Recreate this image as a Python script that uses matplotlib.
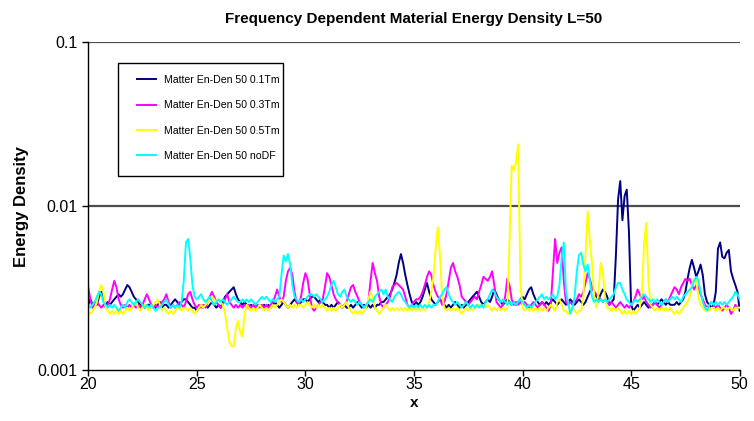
import numpy as np
import matplotlib
matplotlib.use("Agg")
import matplotlib.pyplot as plt
from matplotlib.ticker import FixedLocator, FixedFormatter, NullLocator
from matplotlib.patches import Rectangle

plt.rcParams['font.family'] = ['Liberation Sans', 'DejaVu Sans']

# x grid: 20.0 .. 50.0 step 0.1
x_start, x_step, n_pts = 20.0, 0.1, 301

# values in units of 1e-4 (energy density), one row per unit of x
navy_01 = [
    25, 27, 25, 26, 25, 28, 30, 27, 25, 26,
    25, 26, 27, 28, 29, 28, 29, 31, 33, 32,
    30, 28, 27, 26, 25, 25, 24, 25, 25, 24,
    25, 24, 25, 26, 24, 25, 25, 24, 25, 26,
    27, 26, 25, 26, 27, 27, 26, 25, 24, 24,
    23, 24, 25, 24, 25, 24, 25, 26, 25, 24,
    25, 24, 26, 28, 29, 30, 31, 32, 29, 27,
    26, 25, 26, 25, 24, 25, 24, 25, 24, 25,
    24, 25, 24, 25, 24, 25, 26, 25, 24, 25,
    26, 25, 24, 25, 26, 27, 26, 25, 26, 27,
    27, 26, 27, 28, 28, 27, 26, 27, 26, 25,
    25, 24, 25, 24, 25, 26, 25, 24, 25, 24,
    24, 25, 24, 25, 26, 25, 24, 25, 24, 25,
    24, 25, 24, 25, 25, 26, 26, 27, 28, 29,
    31, 34, 38, 45, 51, 45, 38, 33, 29, 26,
    25, 26, 25, 26, 28, 31, 34, 30, 27, 26,
    25, 26, 27, 26, 25, 24, 25, 24, 25, 26,
    25, 24, 25, 24, 25, 26, 27, 28, 29, 30,
    28, 26, 25, 26, 27, 26, 28, 31, 29, 27,
    26, 25, 26, 27, 26, 25, 26, 25, 26, 27,
    28, 27, 29, 31, 32, 29, 27, 26, 25, 26,
    25, 26, 25, 26, 27, 26, 25, 26, 27, 26,
    25, 26, 27, 26, 25, 26, 27, 26, 25, 26,
    28, 30, 32, 30, 28, 27, 29, 31, 30, 28,
    25, 26, 27, 50, 110, 142, 82, 115, 126, 70,
    25, 23, 24, 25, 24, 25, 26, 25, 24, 25,
    25, 26, 25, 26, 27, 26, 25, 26, 25, 25,
    25, 26, 25, 26, 27, 30, 36, 42, 47, 42,
    37, 40, 44, 38, 29, 26, 25, 24, 25, 30,
    55, 60, 49, 48, 52, 54, 40, 36, 33, 30,
    23,
]
magenta_03 = [
    32, 27, 24, 25, 26, 25, 24, 25, 24, 25,
    27, 31, 35, 32, 27, 25, 24, 25, 24, 25,
    24, 25, 24, 25, 24, 25, 27, 29, 27, 25,
    24, 25, 24, 25, 26, 27, 29, 26, 24, 25,
    24, 25, 26, 25, 24, 26, 29, 30, 27, 25,
    24, 25, 24, 25, 24, 26, 28, 30, 28, 26,
    25, 24, 25, 27, 29, 26, 25, 24, 25, 24,
    25, 24, 25, 24, 25, 24, 25, 24, 25, 24,
    25, 24, 25, 24, 25, 26, 28, 31, 28, 26,
    28, 35, 40, 42, 38, 30, 26, 25, 28, 34,
    39, 36, 29, 24, 23, 24, 25, 26, 27, 32,
    39, 37, 33, 29, 27, 26, 25, 24, 25, 26,
    29, 32, 33, 30, 28, 26, 25, 24, 25, 26,
    35, 45, 39, 35, 28, 25, 24, 25, 26, 28,
    32, 33, 34, 33, 32, 31, 28, 25, 24, 25,
    26, 27, 27, 28, 30, 33, 37, 40, 38, 33,
    30, 28, 27, 25, 26, 29, 35, 42, 45, 40,
    37, 33, 28, 27, 26, 25, 26, 27, 28, 27,
    30, 33, 37, 36, 35, 37, 40, 33, 26, 25,
    24, 25, 28, 36, 33, 27, 25, 26, 25, 26,
    25, 26, 25, 24, 25, 26, 25, 24, 25, 26,
    25, 24, 23, 25, 40, 63, 45, 52, 56, 35,
    26, 25, 26, 25, 26, 27, 29, 28, 30, 34,
    39, 36, 32, 30, 29, 28, 27, 26, 27, 26,
    25, 26, 25, 24, 25, 26, 25, 24, 25, 24,
    25, 26, 28, 31, 29, 27, 28, 26, 25, 24,
    25, 26, 25, 24, 25, 26, 27, 26, 28, 30,
    32, 31, 29, 32, 34, 36, 35, 36, 33, 31,
    33, 32, 29, 27, 25, 24, 25, 26, 25, 24,
    25, 24, 23, 24, 25, 24, 22, 23, 25, 24,
    24,
]
yellow_05 = [
    23, 22, 23, 24, 26, 30, 33, 30, 24, 23,
    22, 23, 22, 23, 22, 23, 22, 23, 24, 23,
    24, 25, 26, 24, 23, 24, 25, 24, 23, 24,
    25, 26, 27, 25, 23, 24, 23, 22, 23, 22,
    23, 24, 24, 23, 24, 24, 23, 24, 23, 22,
    23, 24, 25, 24, 25, 26, 27, 28, 27, 26,
    27, 26, 25, 22, 18, 15, 14, 14, 18, 20,
    17, 16, 22, 25, 24, 23, 24, 23, 24, 25,
    24, 23, 24, 23, 24, 25, 24, 25, 26, 27,
    26, 25, 24, 25, 24, 25, 24, 25, 25, 24,
    25, 26, 25, 24, 25, 24, 25, 24, 25, 24,
    23, 24, 23, 24, 23, 24, 25, 24, 25, 26,
    24, 23, 22, 23, 22, 23, 22, 23, 24, 27,
    30, 28, 24, 23, 22, 23, 24, 25, 24, 23,
    24, 23, 24, 23, 24, 23, 24, 23, 24, 23,
    24, 23, 24, 23, 24, 23, 24, 26, 30, 37,
    55, 74, 50, 28, 24, 23, 24, 23, 24, 23,
    24, 23, 22, 23, 24, 23, 24, 23, 24, 25,
    25, 24, 25, 24, 25, 24, 23, 24, 23, 24,
    23, 24, 23, 24, 60, 176, 165, 185, 238, 35,
    24, 23, 24, 23, 24, 23, 24, 23, 24, 23,
    24, 23, 24, 25, 24, 23, 26, 27, 25, 23,
    23, 22, 23, 24, 23, 22, 23, 23, 28, 50,
    93, 62, 45, 28, 24, 30, 45, 40, 27, 24,
    24, 23, 24, 23, 24, 23, 22, 23, 22, 23,
    22, 23, 22, 23, 24, 30, 60, 79, 35, 25,
    24, 23, 24, 23, 24, 23, 24, 23, 24, 23,
    22, 23, 22, 23, 24, 25, 26, 28, 33, 36,
    35, 28, 25, 24, 23, 24, 23, 24, 24, 23,
    24, 23, 24, 24, 23, 24, 24, 23, 24, 24,
    24,
]
cyan_nodf = [
    25, 24, 25, 26, 28, 30, 29, 26, 25, 24,
    25, 24, 25, 24, 23, 24, 25, 24, 26, 27,
    26, 25, 26, 27, 26, 25, 24, 25, 24, 25,
    24, 23, 24, 24, 25, 26, 27, 25, 24, 25,
    24, 25, 24, 26, 35, 60, 63, 48, 33, 28,
    27, 28, 29, 27, 26, 27, 28, 26, 25, 26,
    27, 26, 27, 26, 25, 26, 27, 28, 27, 26,
    26, 27, 26, 27, 26, 27, 26, 25, 26, 27,
    28, 27, 28, 27, 26, 27, 26, 27, 28, 38,
    50, 46, 51, 44, 33, 28, 27, 26, 27, 26,
    27, 28, 29, 29, 28, 29, 28, 27, 26, 27,
    28, 30, 33, 35, 32, 29, 28, 30, 31, 28,
    27, 26, 27, 26, 25, 26, 25, 24, 25, 26,
    27, 26, 28, 29, 30, 31, 29, 31, 28, 27,
    26, 28, 29, 30, 29, 27, 26, 25, 24, 25,
    24, 25, 24, 25, 24, 25, 24, 25, 24, 25,
    25, 26, 28, 29, 31, 32, 29, 27, 26, 25,
    26, 25, 24, 25, 26, 25, 24, 25, 24, 25,
    24, 25, 24, 26, 27, 29, 31, 30, 28, 27,
    26, 27, 26, 25, 26, 25, 26, 25, 26, 27,
    26, 25, 24, 25, 24, 25, 26, 27, 28, 29,
    27, 28, 27, 28, 29, 27, 28, 33, 48, 60,
    30, 26, 22, 24, 28, 40, 50, 52, 44, 40,
    44, 35, 28, 26, 27, 26, 27, 26, 27, 26,
    27, 28, 29, 32, 34, 34, 31, 29, 27, 26,
    25, 26, 27, 26, 27, 28, 29, 28, 27, 26,
    27, 26, 27, 26, 25, 26, 27, 26, 27, 28,
    27, 28, 27, 26, 28, 29, 30, 31, 32, 35,
    37, 35, 30, 26, 24, 23, 25, 26, 25, 26,
    25, 26, 25, 26, 25, 26, 27, 28, 30, 29,
    27,
]
value_scale = 1e-4

series_labels = ["Matter En-Den 50 0.1Tm", "Matter En-Den 50 0.3Tm",
                 "Matter En-Den 50 0.5Tm", "Matter En-Den 50 noDF"]
series_colors = ["#000080", "#FF00FF", "#FFFF00", "#00FFFF"]

y_ticks = [0.001, 0.01, 0.1]
y_ticklabels = ["0.001", "0.01", "0.1"]
x_ticks = [20, 25, 30, 35, 40, 45, 50]

x = x_start + x_step * np.arange(n_pts)

fig = plt.figure(figsize=(7.54, 4.21), dpi=100)
ax = fig.add_axes([0.117, 0.121, 0.864, 0.779])

for data, lab, col in zip([navy_01, magenta_03, yellow_05, cyan_nodf], series_labels, series_colors):
    ax.plot(x, np.array(data) * value_scale, color=col, lw=1.4, label=lab)

ax.set_yscale('log')
ax.set_ylim(0.001, 0.1)
ax.set_xlim(20, 50)
ax.yaxis.set_major_locator(FixedLocator(y_ticks))
ax.yaxis.set_major_formatter(FixedFormatter(y_ticklabels))
ax.yaxis.set_minor_locator(NullLocator())
ax.set_xticks(x_ticks)
ax.set_xticklabels([str(t) for t in x_ticks])

for yv in [0.01, 0.1]:
    ax.axhline(yv, color='#4d4d4d', lw=1.6, zorder=0)

for s in ['top', 'right']:
    ax.spines[s].set_visible(False)
for s in ['left', 'bottom']:
    ax.spines[s].set_linewidth(1.0)
    ax.spines[s].set_color('black')

ax.tick_params(axis='both', direction='out', length=4, width=1, labelsize=11.5, colors='black')
ax.tick_params(axis='x', pad=1)

ax.set_title("Frequency Dependent Material Energy Density L=50", fontsize=11, fontweight='bold', pad=14)
ax.set_xlabel("x", fontsize=11, fontweight='bold', labelpad=3)
ax.set_ylabel("Energy Density", fontsize=12, fontweight='bold', labelpad=6)

# legend frame (drawn as rectangle) and entries
ax.add_patch(Rectangle((0.046, 0.5915), 0.253, 0.3445, transform=ax.transAxes,
                       facecolor='white', edgecolor='black', lw=1.0, zorder=5))
leg = ax.legend(loc='upper left', bbox_to_anchor=(0.0752, 0.900), fontsize=7.6,
                frameon=False, handlelength=1.75, labelspacing=1.45, borderpad=0,
                handletextpad=0.8, borderaxespad=0)
leg.set_zorder(6)

fig.savefig("out.png", dpi=100)
